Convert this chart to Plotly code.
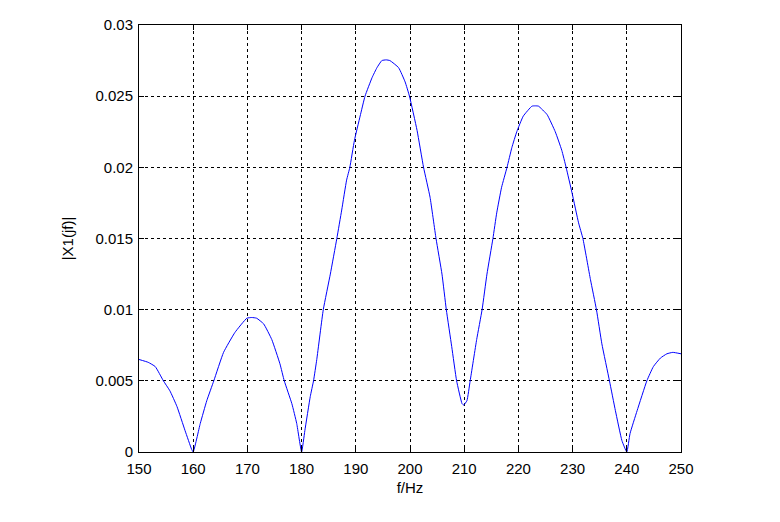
import plotly.graph_objects as go

freq_hz = [150.0, 151.7, 153.0, 154.5, 155.7, 157.0, 158.5, 159.7, 160.0, 161.3,
           162.5, 163.8, 165.6, 167.7, 169.9, 170.8, 171.7, 173.0, 174.5, 176.0,
           176.8, 178.2, 179.1, 180.0, 180.6, 181.6, 182.2, 182.8, 184.0, 185.3,
           186.5, 187.4, 188.3, 188.9, 189.75, 190.8, 191.7, 193.0, 193.9, 194.8,
           195.6, 196.3, 197.9, 199.1, 199.9, 201.3, 202.5, 203.7, 204.8, 205.9,
           206.7, 207.7, 208.6, 209.6, 209.9, 210.5, 211.1, 212.3, 213.3, 214.2,
           215.3, 216.0, 216.9, 217.9, 218.8, 219.7, 220.9, 222.5, 223.1, 223.7,
           225.3, 226.8, 228.0, 228.8, 229.9, 231.1, 231.9, 233.3, 234.4, 235.4,
           236.8, 237.9, 239.1, 240.0, 240.6, 241.9, 243.7, 244.9, 246.2, 247.4,
           248.5, 250.0]
magnitude = [0.0065, 0.0063, 0.0060, 0.0050, 0.0043, 0.0032, 0.0015, 0.0002, 0.0, 0.0020,
             0.0036, 0.0050, 0.0070, 0.0084, 0.0094, 0.00945, 0.0094, 0.0090, 0.0079, 0.0062,
             0.0050, 0.0034, 0.0020, 0.0, 0.0015, 0.0039, 0.0050, 0.0065, 0.0100, 0.0125,
             0.0150, 0.0170, 0.0191, 0.0200, 0.0219, 0.0236, 0.0250, 0.0263, 0.0270, 0.0275,
             0.02755, 0.0275, 0.0270, 0.0260, 0.0250, 0.0226, 0.0200, 0.0179, 0.0150, 0.0125,
             0.0100, 0.0074, 0.0050, 0.0034, 0.0033, 0.0036, 0.0050, 0.0079, 0.0100, 0.0125,
             0.0150, 0.0168, 0.0186, 0.0200, 0.0214, 0.0225, 0.0236, 0.0243, 0.02432, 0.0243,
             0.0237, 0.0225, 0.0212, 0.0200, 0.0182, 0.0161, 0.0150, 0.0121, 0.0100, 0.0076,
             0.0050, 0.0029, 0.0008, 0.0, 0.0013, 0.0029, 0.0050, 0.0060, 0.0066, 0.0069,
             0.0070, 0.0069]

x_ticks = [150, 160, 170, 180, 190, 200, 210, 220, 230, 240, 250]
y_ticks = [0, 0.005, 0.01, 0.015, 0.02, 0.025, 0.03]
y_tick_labels = ["0", "0.005", "0.01", "0.015", "0.02", "0.025", "0.03"]

FONT = "Liberation Sans, Arial, sans-serif"

fig = go.Figure()
fig.add_trace(go.Scatter(x=freq_hz, y=magnitude, mode="lines",
                         line=dict(color="#0000ff", width=1, shape="spline", smoothing=0.4),
                         showlegend=False, hoverinfo="skip"))

axis_common = dict(showline=True, linecolor="black", linewidth=1, mirror="ticks",
                   ticks="inside", ticklen=5, tickcolor="black",
                   showgrid=True, gridcolor="black", gridwidth=1, griddash="3px,3px",
                   zeroline=False, tickfont=dict(family=FONT, size=15, color="black"))

fig.update_xaxes(range=[150, 250], tickvals=x_ticks, ticktext=[str(t) for t in x_ticks],
                 ticklabelstandoff=3,
                 title=dict(text="f/Hz", font=dict(family=FONT, size=15, color="black"),
                            standoff=6),
                 **axis_common)
fig.update_yaxes(range=[0, 0.03], tickvals=y_ticks, ticktext=y_tick_labels,
                 ticklabelstandoff=2,
                 title=dict(text="|X1(jf)|", font=dict(family=FONT, size=15, color="black"),
                            standoff=18),
                 **axis_common)

fig.update_layout(width=780, height=522, paper_bgcolor="white", plot_bgcolor="white",
                  margin=dict(l=131, r=107, t=17, b=78, autoexpand=False),
                  font=dict(family=FONT, size=15, color="black"))

fig.write_html("out.html")
